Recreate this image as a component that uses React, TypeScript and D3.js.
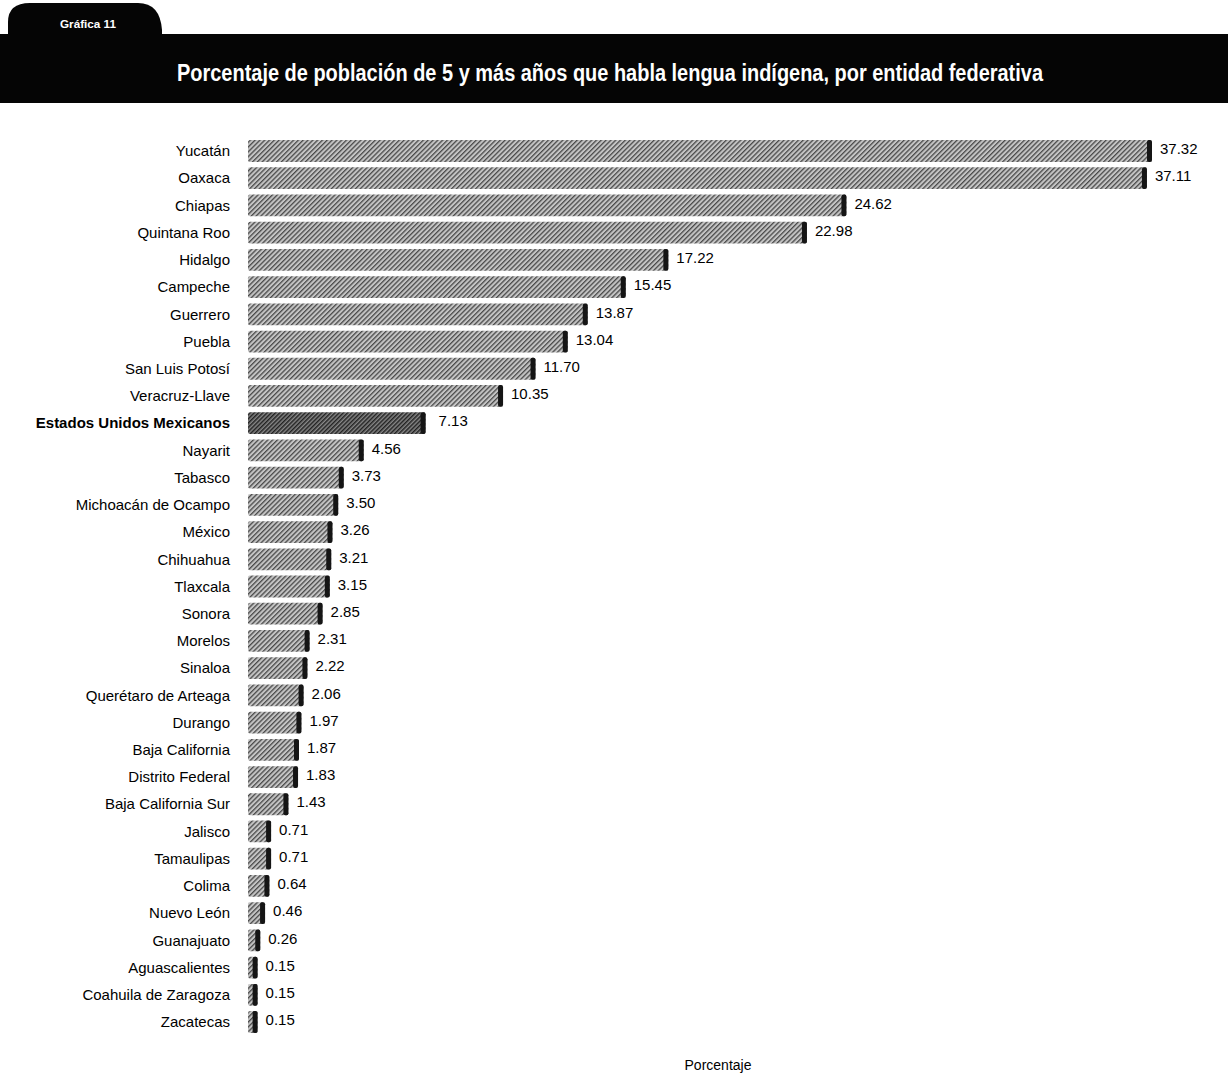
import React from "react";
import * as d3 from "d3";

const states = [
  "Yucatán", "Oaxaca", "Chiapas", "Quintana Roo", "Hidalgo", "Campeche", "Guerrero", "Puebla",
  "San Luis Potosí", "Veracruz-Llave", "Estados Unidos Mexicanos", "Nayarit", "Tabasco",
  "Michoacán de Ocampo", "México", "Chihuahua", "Tlaxcala", "Sonora", "Morelos", "Sinaloa",
  "Querétaro de Arteaga", "Durango", "Baja California", "Distrito Federal", "Baja California Sur",
  "Jalisco", "Tamaulipas", "Colima", "Nuevo León", "Guanajuato", "Aguascalientes",
  "Coahuila de Zaragoza", "Zacatecas",
];
const values = [
  37.32, 37.11, 24.62, 22.98, 17.22, 15.45, 13.87, 13.04, 11.7, 10.35, 7.13, 4.56, 3.73, 3.5,
  3.26, 3.21, 3.15, 2.85, 2.31, 2.22, 2.06, 1.97, 1.87, 1.83, 1.43, 0.71, 0.71, 0.64, 0.46,
  0.26, 0.15, 0.15, 0.15,
];
const nationalLabel = "Estados Unidos Mexicanos";
const title = "Porcentaje de población de 5 y más años que habla lengua indígena, por entidad federativa";
const tabLabel = "Gráfica 11";
const axisTitle = "Porcentaje";

const W = 1228;
const H = 1074;
const FONT = "'Liberation Sans', Arial, sans-serif";

export default function App() {
  const x = d3.scaleLinear().domain([0, 37.32]).range([254, 1152]);
  const y = d3
    .scaleBand<string>()
    .domain(states)
    .range([137.4, 1035.6])
    .paddingInner(0.2)
    .paddingOuter(0.1);
  const bh = y.bandwidth();
  const depth = 6;

  return (
    <svg
      width={W}
      height={H}
      style={{ position: "absolute", left: 0, top: 0, background: "#fff" }}
      fontFamily={FONT}
    >
      <defs>
        <pattern id="hatch" patternUnits="userSpaceOnUse" width="3.4" height="3.4" patternTransform="rotate(45)">
          <rect width="3.4" height="3.4" fill="#c4c4c4" />
          <rect width="1.3" height="3.4" fill="#4a4a4a" />
        </pattern>
        <pattern id="hatchDark" patternUnits="userSpaceOnUse" width="3" height="3" patternTransform="rotate(45)">
          <rect width="3" height="3" fill="#888" />
          <rect width="1.5" height="3" fill="#222" />
        </pattern>
      </defs>

      {/* header */}
      <path d="M8,40 L8,22 Q8,3 30,3 L138,3 Q160,3 162,30 L162,40 Z" fill="#050505" />
      <rect x={0} y={34} width={W} height={69} fill="#050505" />
      <text x={60} y={28} fill="#fff" fontSize={11.5} fontWeight="bold" textLength={56} lengthAdjust="spacingAndGlyphs">
        {tabLabel}
      </text>
      <text
        x={177}
        y={81}
        fill="#fff"
        fontSize={23}
        fontWeight="bold"
        textLength={866}
        lengthAdjust="spacingAndGlyphs"
      >
        {title}
      </text>

      {/* bars */}
      {states.map((s, i) => {
        const v = values[i];
        const y0 = y(s)!;
        const x0 = x(0) - depth;
        const x1 = x(v);
        const isNat = s === nationalLabel;
        const capW = 5;
        return (
          <g key={s}>
            <rect x={x0} y={y0} width={x1 - x0} height={bh} fill={isNat ? "url(#hatchDark)" : "url(#hatch)"} rx={2} />
            <rect x={x1 - capW} y={y0} width={capW} height={bh} fill="#151515" rx={2} />
            <text
              x={230}
              y={y0 + bh / 2}
              dy="0.35em"
              textAnchor="end"
              fontSize={15}
              fontWeight={isNat ? "bold" : "normal"}
              fill="#000"
            >
              {s}
            </text>
            <text x={x1 + (isNat ? 13 : 8)} y={y0 + bh / 2 - 2} dy="0.35em" fontSize={15} fill="#000">
              {v.toFixed(2)}
            </text>
          </g>
        );
      })}

      <text x={718} y={1070} textAnchor="middle" fontSize={14} fill="#000">
        {axisTitle}
      </text>
    </svg>
  );
}
